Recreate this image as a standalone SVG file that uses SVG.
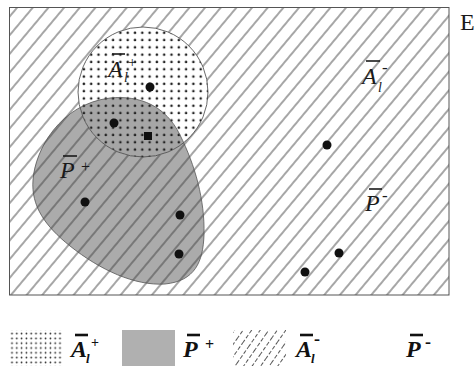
<svg xmlns="http://www.w3.org/2000/svg" width="476" height="366" viewBox="0 0 476 366">
<style>
.lbl{font-family:"Liberation Serif",serif;font-style:italic;fill:#1a1a1a}
.lg{font-family:"Liberation Serif",serif;font-style:italic;font-weight:bold;fill:#111}
.sm{font-family:"Liberation Serif",serif;fill:#1a1a1a}
.bar{stroke:#1a1a1a;stroke-width:1.6}
.barb{stroke:#111;stroke-width:2.6}
.pt{fill:#111}
</style>
<defs>
<pattern id="hatch" patternUnits="userSpaceOnUse" width="12" height="20" patternTransform="rotate(40)">
<line x1="6" y1="0" x2="6" y2="20" stroke="#3a3a3a" stroke-width="0.9"/>
</pattern>
<pattern id="hatchDash" patternUnits="userSpaceOnUse" width="7" height="20" patternTransform="rotate(35)">
<line x1="3.5" y1="0" x2="3.5" y2="20" stroke="#444" stroke-width="0.9" stroke-dasharray="4 2"/>
</pattern>
<pattern id="dots" patternUnits="userSpaceOnUse" width="7.3" height="7.3">
<circle cx="3.6" cy="3.6" r="1.3" fill="#222"/>
</pattern>
<pattern id="dotsSmall" patternUnits="userSpaceOnUse" width="4.8" height="4.8">
<circle cx="2.4" cy="2.4" r="0.85" fill="#222"/>
</pattern>
<clipPath id="circClip"><circle cx="143" cy="92" r="65"/></clipPath>
<path id="blobPath" d="M110,98 C140,95 166,106 180,135 C195,165 205,200 204,235 C203,262 195,281 165,284 C135,286 100,270 70,246 C45,226 31,206 33,180 C35,150 60,104 110,98 Z"/>
</defs>
<rect width="476" height="366" fill="#fff"/>
<g id="universe">
<rect x="9.5" y="7.5" width="439.5" height="287.5" fill="#fff"/>
</g>
<g id="P_plus">
<use href="#blobPath" fill="#ababab"/>
</g>
<rect x="9.5" y="7.5" width="439.5" height="287.5" fill="url(#hatch)"/>
<g id="A_l_plus">
<circle cx="143" cy="92" r="65" fill="#fff"/>
<use href="#blobPath" fill="#a6a6a6" clip-path="url(#circClip)"/>
<circle cx="143" cy="92" r="65" fill="url(#dots)"/>
<circle cx="143" cy="92" r="65" fill="none" stroke="#444" stroke-width="0.8"/>
</g>
<use href="#blobPath" fill="none" stroke="#555" stroke-width="0.8"/>
<rect x="9.5" y="7.5" width="439.5" height="287.5" fill="none" stroke="#555" stroke-width="1"/>
<g id="points">
<circle class="pt" cx="150" cy="87" r="4.5"/>
<circle class="pt" cx="114" cy="123" r="4.5"/>
<rect class="pt" x="144" y="132" width="8" height="8"/>
<circle class="pt" cx="85" cy="202" r="4.5"/>
<circle class="pt" cx="180" cy="215" r="4.5"/>
<circle class="pt" cx="179" cy="254" r="4.5"/>
<circle class="pt" cx="327" cy="145" r="4.5"/>
<circle class="pt" cx="339" cy="253" r="4.5"/>
<circle class="pt" cx="305" cy="272" r="4.5"/>
</g>
<g id="labels">
<text class="lbl" x="108" y="77" font-size="24">A</text>
<text class="lbl" x="124" y="82" font-size="14">l</text>
<text class="sm" x="128" y="67" font-size="15">+</text>
<line class="bar" x1="112" y1="54" x2="125" y2="54"/>
<text class="lbl" x="60" y="178" font-size="24">P</text>
<line class="bar" x1="63" y1="156" x2="77" y2="156"/>
<text class="sm" x="81" y="172" font-size="16">+</text>
<text class="lbl" x="362" y="84" font-size="24">A</text>
<text class="lbl" x="378" y="92" font-size="14">l</text>
<text class="sm" x="382" y="73" font-size="17">-</text>
<line class="bar" x1="366" y1="61" x2="380" y2="61"/>
<text class="lbl" x="365" y="211" font-size="24">P</text>
<line class="bar" x1="369" y1="189" x2="382" y2="189"/>
<text class="sm" x="382" y="201" font-size="17">-</text>
<text class="sm" x="460" y="30" font-size="24">E</text>
</g>
<g id="legend">
<rect x="10" y="330" width="52" height="36" fill="url(#dotsSmall)"/>
<text class="lg" x="71" y="357" font-size="24">A</text>
<text class="lg" x="86" y="363" font-size="13">l</text>
<text class="lg" x="91" y="347" font-size="14" style="font-style:normal">+</text>
<line class="barb" x1="75" y1="335" x2="88" y2="335"/>
<rect x="122" y="330" width="53" height="36" fill="#b0b0b0"/>
<text class="lg" x="183" y="357" font-size="24">P</text>
<line class="barb" x1="187" y1="335" x2="200" y2="335"/>
<text class="lg" x="205" y="350" font-size="16" style="font-style:normal">+</text>
<rect x="233" y="330" width="53" height="36" fill="url(#hatchDash)"/>
<text class="lg" x="296" y="357" font-size="24">A</text>
<text class="lg" x="311" y="363" font-size="13">l</text>
<text class="lg" x="314" y="345" font-size="18" style="font-style:normal">-</text>
<line class="barb" x1="300" y1="335" x2="313" y2="335"/>
<text class="lg" x="406" y="357" font-size="24">P</text>
<line class="barb" x1="410" y1="335" x2="423" y2="335"/>
<text class="lg" x="425" y="348" font-size="18" style="font-style:normal">-</text>
</g>
</svg>
